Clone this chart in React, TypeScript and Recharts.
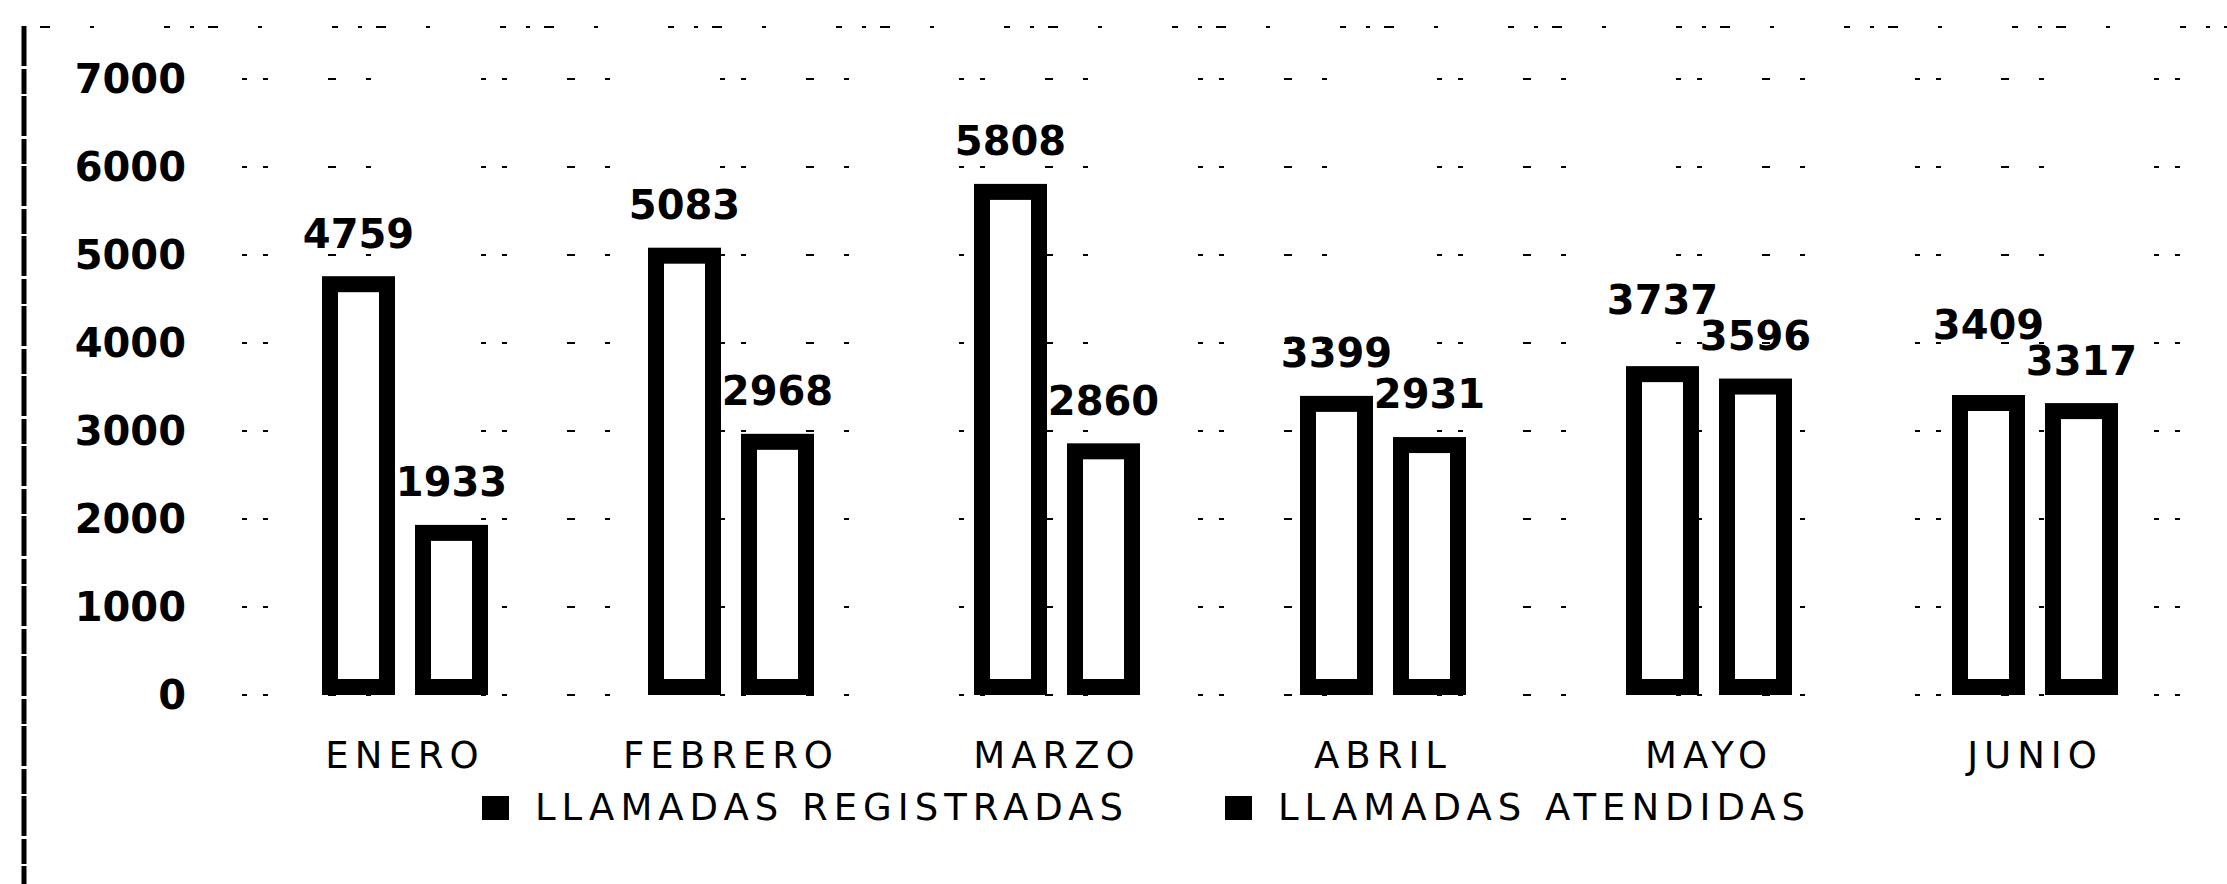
import React from 'react';
import { BarChart, Bar, XAxis, YAxis, CartesianGrid, Legend, LabelList } from 'recharts';

const months = ['ENERO', 'FEBRERO', 'MARZO', 'ABRIL', 'MAYO', 'JUNIO'];
const registradas = [4759, 5083, 5808, 3399, 3737, 3409];
const atendidas = [1933, 2968, 2860, 2931, 3596, 3317];
const yTicks = [0, 1000, 2000, 3000, 4000, 5000, 6000, 7000];
const seriesNames = ['LLAMADAS REGISTRADAS', 'LLAMADAS ATENDIDAS'];

const data = months.map((m, i) => ({ month: m, reg: registradas[i], ate: atendidas[i] }));

const FONT = '"DejaVu Sans", Verdana, sans-serif';
const LABEL_GAP = 43;
const LABEL_STACK = 36;

const FramedBar = (props: any) => {
  const { x, y, width, height } = props;
  if (width == null || height == null) return null;
  const b = 16;
  return (
    <g>
      <rect x={x} y={y} width={width} height={height} fill="#000" />
      <rect
        x={x + b}
        y={y + b}
        width={Math.max(0, width - 2 * b)}
        height={Math.max(0, height - 2 * b)}
        fill="#fff"
      />
    </g>
  );
};

const labelStyle = { fontSize: 40, fontFamily: FONT, fill: '#000', fontWeight: 'bold' as const };

// Registradas label: lifted above the neighbouring Atendidas label when they would collide
const RegLabel = (props: any) => {
  const { x, y, width, height, value, index } = props;
  if (value == null || !height) return null;
  const bottom = y + height;
  const ppu = height / value;
  const ateTop = bottom - atendidas[index] * ppu;
  const cy = Math.min(y - LABEL_GAP, ateTop - LABEL_GAP - LABEL_STACK);
  return (
    <text x={x + width / 2} y={cy} dy="0.36em" textAnchor="middle" style={labelStyle}>
      {value}
    </text>
  );
};

const AteLabel = (props: any) => {
  const { x, y, width, value } = props;
  if (value == null) return null;
  return (
    <text x={x + width / 2} y={y - LABEL_GAP} dy="0.36em" textAnchor="middle" style={labelStyle}>
      {value}
    </text>
  );
};

const renderLegend = () => (
  <div style={{ display: 'flex', alignItems: 'center', fontFamily: FONT }}>
    {seriesNames.map((name, i) => (
      <div key={i} style={{ display: 'flex', alignItems: 'center', marginRight: i === 0 ? 96 : 0 }}>
        <span style={{ width: 27, height: 24, background: '#000', display: 'inline-block', marginRight: 26 }} />
        <span style={{ fontSize: 37, letterSpacing: 6, color: '#000', lineHeight: '44px', whiteSpace: 'nowrap' }}>{name}</span>
      </div>
    ))}
  </div>
);

export default function App() {
  return (
    <div style={{ position: 'absolute', left: 0, top: 0, width: 2227, height: 884, background: '#fff', overflow: 'hidden' }}>
      <svg style={{ position: 'absolute', left: 0, top: 0 }} width={2227} height={884}>
        <line x1={24} y1={26} x2={24} y2={884} stroke="#000" strokeWidth={5} strokeDasharray="40 3 25 2" />
        <line x1={22} y1={27} x2={2227} y2={27} stroke="#000" strokeWidth={2} strokeDasharray="4 14 10 40 4 70 6 20" />
      </svg>
      <div style={{ position: 'absolute', left: 0, top: 0 }}>
        <BarChart
          width={2227}
          height={884}
          data={data}
          margin={{ top: 79, right: 29, left: 0, bottom: 129 }}
          barGap={20}
        >
          <CartesianGrid vertical={false} stroke="#000" strokeWidth={2} strokeDasharray="5 16 5 60 8 30 5 110" />
          <XAxis
            dataKey="month"
            axisLine={false}
            tickLine={false}
            tickSize={0}
            tickMargin={47}
            height={60}
            interval={0}
            tick={{ fontSize: 37, fontFamily: FONT, fill: '#000', letterSpacing: 6 } as any}
          />
          <YAxis
            width={242}
            domain={[0, 7000]}
            ticks={yTicks}
            axisLine={false}
            tickLine={false}
            tickSize={0}
            tickMargin={56}
            interval={0}
            tick={{ fontSize: 40, fontFamily: FONT, fill: '#000', fontWeight: 'bold' }}
          />
          <Legend
            layout="vertical"
            align="center"
            verticalAlign="middle"
            content={renderLegend}
            wrapperStyle={{ left: 482, top: 786, width: 1600 }}
          />
          <Bar dataKey="reg" name={seriesNames[0]} fill="#000" barSize={73} shape={FramedBar} isAnimationActive={false}>
            <LabelList dataKey="reg" content={RegLabel} />
          </Bar>
          <Bar dataKey="ate" name={seriesNames[1]} fill="#000" barSize={73} shape={FramedBar} isAnimationActive={false}>
            <LabelList dataKey="ate" content={AteLabel} />
          </Bar>
        </BarChart>
      </div>
    </div>
  );
}
